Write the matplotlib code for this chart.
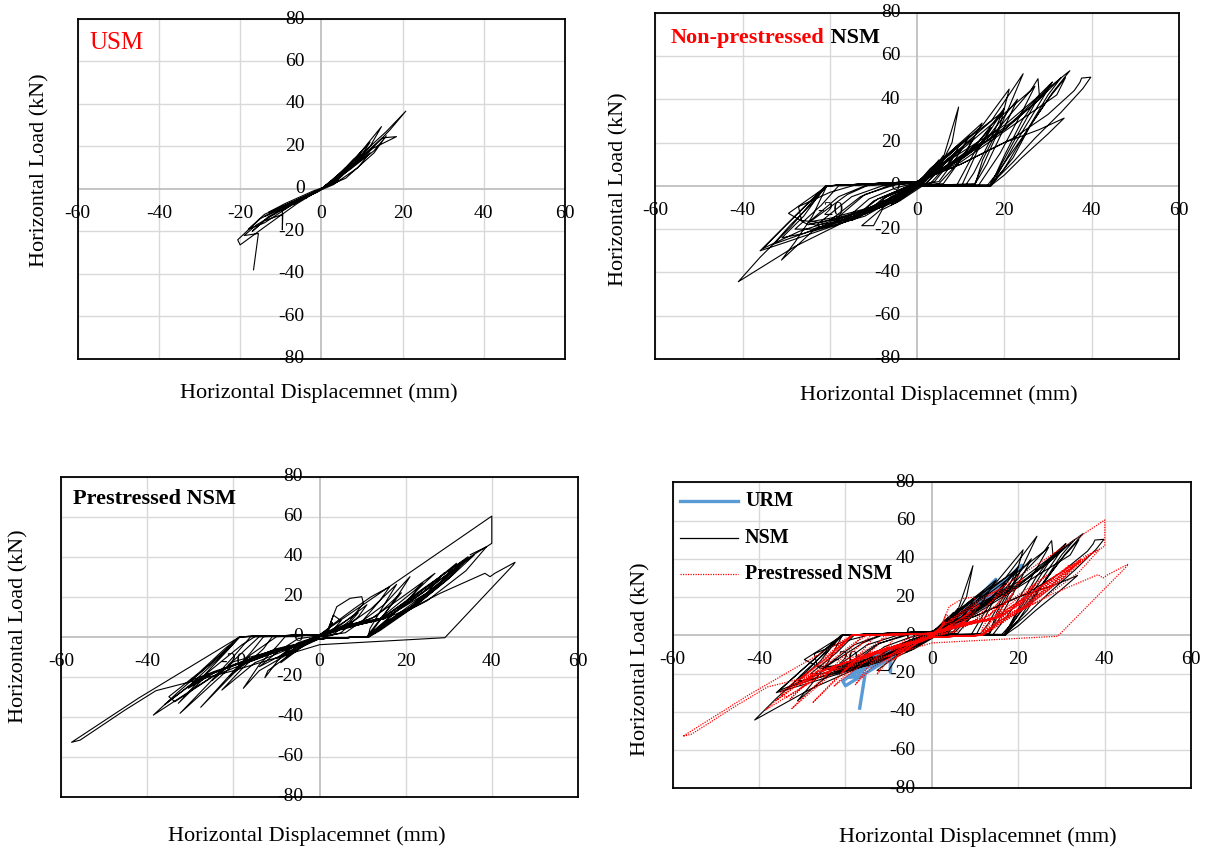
import numpy as np
import matplotlib
matplotlib.use("Agg")
import matplotlib.pyplot as plt
from matplotlib.lines import Line2D

plt.rcParams['font.family'] = ['Liberation Serif', 'DejaVu Serif']

W, H = 1208, 851

# ---- data: (displacement mm, load kN) ----
urm_pts = [
    (0, 0), (2, 3), (4, 6), (2, 2.5), (0, 0), (-2, -2), (-4, -4.5), (-2, -2), (0, 0),
    (3, 4.5), (6, 10), (4, 6), (1, 1), (-1, -1), (-4, -4), (-7, -7.5), (-4, -3.5), (0, 0),
    (4, 6), (8, 14), (6, 8), (2, 2), (-1, -1), (-5, -5), (-9, -9.5), (-6, -5.5), (-1, -1), (1, 1),
    (5, 8), (10, 18), (8, 11), (3, 3), (-1, -1), (-6, -6), (-11, -10), (-8, -7), (-2, -2), (1, 1),
    (5, 7), (10, 14), (12, 17), (9, 10), (3, 2), (-2, -2), (-8, -7), (-13, -11), (-9, -7), (-2, -1), (1, 1),
    (6, 9), (12, 22), (10, 16), (4, 4), (-1, -1.5), (-7, -7), (-14, -13), (-11, -10), (-3, -3), (1, 1),
    (7, 11), (14.8, 29.3), (12, 20), (5, 6), (-1, -1.5), (-8, -8), (-9.6, -10), (-9.6, -19.3),
    (-9.5, -12), (-14, -15), (-17, -20), (-13, -13), (-4, -4), (1, 1),
    (7, 9), (13, 18), (16, 25), (13, 17), (6, 5), (0, 0), (-7, -6), (-14, -12), (-18, -19),
    (-14, -16), (-6, -6), (0, 0),
    (8, 12), (15, 24), (18.5, 24.6), (12.7, 19.1), (6, 8), (0, 0), (-8, -7), (-15, -14),
    (-20.6, -24), (-20, -26.4), (-14, -18), (-6, -7), (0, 0),
    (8, 13), (16, 27), (20.8, 36.6), (17, 28), (13, 20), (6, 8), (0, 0), (-8, -8),
    (-16, -17), (-19, -22), (-15.5, -21), (-16.7, -38.1),
]

nsm_pts = [
    (0, 0), (1, 2.5), (2, 4), (1.2, 1.5), (0, 0.5), (-1, -1.5), (-2, -3), (-1, -1), (0, 0.5),
    (1.5, 3), (3, 6), (2, 3), (0.5, 1), (-1.5, -2), (-3, -4.5), (-2, -2), (0, 1),
    (2, 4), (4, 9), (3, 5), (1, 1), (-2, -3), (-4, -6), (-2.5, -2.5), (0, 1),
    (2, 5), (5, 12), (3.5, 6), (1, 1), (-2, -3.5), (-5, -8), (-3, -3), (0, 1),
    (3, 6), (6, 14), (4.5, 8), (1.5, 1), (-3, -5), (-6, -9), (-4, -4), (0, 1),
    (2, 3), (7, 12), (5, 7), (2, 1), (0, 0), (-4, -5), (-9, -10), (-6, -5), (0, 1),
    (3, 8), (6, 13), (9.5, 36.4), (8, 20), (5, 8), (2, 1), (-4, -7), (-8, -11), (-10, -18.4),
    (-12.7, -18.4), (-6, -7), (-4, -3), (0, 1),
    (3, 5), (9, 16), (7, 10), (3, 1), (0, 0), (-5, -6), (-11, -12), (-7, -5), (0, 1),
    (4, 9), (10, 20), (8, 12), (4, 2), (0, 0), (-5, -7), (-12, -13), (-8, -6), (0, 1.5),
    (4, 6), (11, 19), (13, 22), (10, 12), (5, 1), (0, 0), (-6, -7), (-15, -16), (-10, -7), (-2, 0), (0, 1),
    (5, 10), (12, 23), (9, 13), (5, 2), (0, 0), (-6, -8), (-14, -14), (-9, -6), (-3, -1), (0, 1.5),
    (5, 6), (12, 16), (17, 27), (13, 15), (9, 0), (0, 0), (-7, -8), (-17, -17), (-19, -16),
    (-12, -4), (-5, 0.5), (0, 1.5),
    (5, 11), (14.9, 29), (11, 15), (6, 1), (0, 0), (-7, -9), (-16.5, -15.5), (-11, -6), (-5, -1), (0, 1.5),
    (6, 8), (14, 20), (20, 36), (17, 22), (13, 6), (11, 0), (0, 0), (-9, -10), (-19, -17),
    (-23, -18), (-15, -5), (-8, 0), (0, 1.5),
    (6, 12), (13, 24), (19.3, 33.6), (14, 17), (10.2, 0), (0, 0), (-8, -9), (-18, -15), (-20, -16),
    (-13, -5), (-6, 0.5), (0, 1.5),
    (7, 9), (16, 22), (23, 40), (20, 27), (16, 10), (13, 0), (0, 0), (-10, -11), (-22, -19),
    (-25, -17), (-18, -5), (-12, 0), (0, 1.5),
    (7, 14), (15, 28), (21.1, 44.7), (19, 28), (15, 12), (13.2, 0), (0, 0), (-9, -9), (-20, -15),
    (-24.6, -16.6), (-16, -4), (-11, 0.5), (0, 1.5),
    (8, 14), (17, 30), (24.3, 51.8), (21, 36), (17, 18), (13.2, 1), (0, 0), (-10, -10), (-22, -17),
    (-26.5, -16), (-27.2, -9.6), (-20, -3), (-14, 0.5), (0, 1.5),
    (8, 10), (18, 25), (26, 44), (27, 46), (24, 34), (19, 15), (14, 0), (0, 0), (-11, -12),
    (-24, -20), (-28, -20), (-22, -9), (-18, 0), (0, 1.5),
    (8, 13), (18, 30), (26, 44), (27.7, 49.5), (28, 42), (24, 30), (20, 14), (16.8, 0), (0, 0),
    (-12, -12), (-25, -18), (-29.5, -12.7), (-22, -2), (-20.7, 0), (0, 1.5),
    (9, 11), (20, 26), (28, 40), (31, 48), (28, 38), (22, 18), (17, 0), (0, 0), (-12, -13),
    (-26, -22), (-31, -24), (-26, -14), (-21, 0), (0, 2),
    (9, 14), (20, 28), (27, 40), (30.9, 47.8), (27, 38), (22, 20), (18, 5), (16, 0), (0, 0),
    (-12, -14), (-24, -21), (-31.1, -34.3), (-28, -26), (-24, -14), (-20.7, 0), (0, 1.8),
    (9, 12), (20, 26), (28, 40), (33, 50), (30, 42), (25, 25), (20, 8), (16.8, 0), (0, 0),
    (-13, -12), (-27, -21), (-35.3, -28.9), (-30, -18), (-25, -8), (-20.7, 0), (0, 2),
    (10, 11), (22, 28), (32, 42), (34, 50), (30, 40), (24, 22), (17, 2), (16.8, 0), (0, 0),
    (-14, -15), (-30, -26), (-36, -30), (-31, -20), (-21, 0), (0, 2),
    (10, 12), (22, 30), (30, 45), (35, 53.2), (31, 43), (26, 28), (22, 13), (16.8, 0), (0, 0),
    (-12, -11), (-26, -22), (-33, -27), (-29, -18), (-24, -8), (-20.7, 0), (0, 2),
    (10, 10), (20, 20), (28, 26), (33.7, 31.3), (30, 24), (24, 13), (20, 5), (16.8, 0), (0, 0),
    (-14, -14), (-28, -28), (-41, -44.3), (-36, -33), (-29, -19), (-24, -7), (-20.7, 0), (0, 2),
    (10, 10), (22, 22), (30, 33), (36, 44), (37.3, 47.8), (37.7, 49.8), (39.8, 50.2), (38, 45),
    (33, 34), (27, 22), (22, 11), (16.8, 0.5), (0, 0.5),
]

pnsm_pts = [
    (0, 0), (2, 4), (3, 7), (2, 3), (0, 0), (-2, -2), (-4, -5), (-2, -2), (0, 0),
    (2, 3), (3.2, 10.8), (5, 8), (3, 3), (0, 0), (-3, -3), (-6, -8), (-4, -4), (0, 0),
    (4, 5), (9, 12), (7, 7), (3, 1), (0, 0), (-4, -4), (-10, -11), (-7, -6), (-2, -1), (0, 0),
    (2, 4), (4, 15), (7.1, 19.2), (9.8, 20), (10.2, 16.7), (7, 8), (4, 3), (0, 0), (-4, -5),
    (-9, -13), (-6, -6), (-2, -1), (0, 0),
    (5, 6), (11, 16), (9, 10), (5, 2), (0, -1), (-5, -5), (-14, -15), (-10, -8), (-5, -1), (0, 0.5),
    (3, 6), (8, 14), (12, 20), (16.3, 25), (14, 18), (10, 8), (6, 2), (0, 0), (-5, -6),
    (-12, -17), (-12.7, -20.5), (-9, -10), (-5, -3), (0, 0.5),
    (3, 2), (8, 8), (12, 14), (17.9, 26.2), (15, 16), (11.7, 4), (11.3, 0), (0, -1), (-6, -7),
    (-14, -17), (-17.7, -25.8), (-14, -14), (-10, -5), (-8, 0), (0, 1),
    (5, 4), (13, 10), (19, 22), (16, 14), (12, 3), (11, 0), (0, -1), (-7, -5), (-17, -13),
    (-21, -20), (-16, -9), (-10, 0), (0, 1),
    (4, 3), (10, 8), (15, 16), (21, 30), (18, 20), (14, 8), (11.3, 0), (0, -1), (-7, -6),
    (-15, -13), (-22.7, -26.7), (-18, -16), (-13, -6), (-11, 0), (0, 1),
    (6, 4), (14, 9), (22, 23), (24, 27), (20, 17), (14, 5), (11.3, 0), (0, -1), (-9, -6),
    (-20, -12.5), (-25, -22), (-20, -12), (-14, 0), (0, 1),
    (5, 4), (12, 9), (18, 18), (26.8, 31.7), (23, 24), (18, 13), (12, 2), (11.3, 0), (0, -1),
    (-8, -6), (-18, -14), (-27.6, -35.3), (-22, -22), (-16, -8), (-13, 0), (0, 1),
    (6, 5), (15, 9), (24, 22), (29, 32), (25, 22), (18, 11), (12, 1), (11.3, 0), (0, -1),
    (-10, -6), (-24, -17.5), (-30.5, -25.8), (-26, -18), (-18, -4), (-15, 0), (0, 1),
    (5, 4), (14, 8.4), (22, 20), (28, 30), (31.8, 36.7), (27, 24), (20.2, 12.5), (14, 4),
    (11.3, 0), (0, -1), (-9, -6), (-20, -14), (-32.4, -38.3), (-26, -24), (-20, -10), (-16, 0), (0, 1),
    (6, 5), (16, 10), (26, 25), (33, 37), (28, 27), (20, 13), (13, 2), (11.5, 0), (0, -1),
    (-11, -7), (-26, -19), (-32.8, -33.3), (-28, -22), (-21, -6), (-18.5, 0), (0, 1),
    (5, 4), (14, 8.4), (23, 22), (30, 33), (34.5, 40), (30, 29), (22, 15), (15, 6), (11.5, 0),
    (0, -1), (-10, -7), (-22, -16), (-33.6, -32.5), (-35, -30), (-28, -18), (-22, -6), (-18.5, 0), (0, 1),
    (7, 6), (16, 10), (27, 27), (36, 41), (31, 31), (22, 15), (14, 3), (11.5, 0), (0, -1),
    (-12, -8), (-28, -21), (-36, -34), (-30, -24), (-22, -8), (-18.5, 0), (0, 1),
    (6, 5), (14, 8.4), (24, 24), (32, 36), (38.8, 45), (34, 33), (25, 18), (16, 8), (11.5, 0),
    (0, -1), (-11, -8), (-25, -20), (-38.6, -39.2), (-33, -28), (-25, -13), (-18.5, 0), (0, 1),
    (6, 6), (15, 9), (25, 22), (34.2, 38.4), (30, 30), (22, 16), (15, 7), (11.5, 0), (0, -1),
    (-12, -9), (-24, -17), (-30, -22), (-25, -13), (-18.5, 0), (0, 1),
    (7, 5), (15, 9), (22, 15), (28, 21.7), (38.4, 31.7), (39.6, 30), (40.7, 31.7), (45.4, 37.2),
    (45, 35.9), (29.1, -0.5), (0, -4), (-20, -17), (-38, -27), (-45.2, -36.7), (-55.6, -51.7),
    (-57.6, -52.8), (-42.1, -30.8), (-18.5, 0), (0, 1), (40, 60.3), (40, 46.7), (38.8, 45), (35, 41),
]

x_ticks = [-60, -40, -20, 0, 20, 40, 60]
y_ticks = [-80, -60, -40, -20, 0, 20, 40, 60, 80]

urm = np.array(urm_pts)
nsm = np.array(nsm_pts)
pnsm = np.array(pnsm_pts)

BLUE = '#5b9bd5'
RED = '#ff0000'


def fx(x):
    return x / W


def fy(y):
    return 1 - y / H


def box(x0, x1, y0, y1):
    return [fx(x0), fy(y1), (x1 - x0) / W, (y1 - y0) / H]


def setup(ax):
    ax.set_xlim(-60, 60)
    ax.set_ylim(-80, 80)
    ax.set_xticks([])
    ax.set_yticks([])
    for v in x_ticks:
        if v != 0:
            ax.axvline(v, color='#d9d9d9', lw=1.0, zorder=0)
    for v in y_ticks:
        if v != 0:
            ax.axhline(v, color='#d9d9d9', lw=1.0, zorder=0)
    ax.axhline(0, color='#bfbfbf', lw=1.3, zorder=1)
    ax.axvline(0, color='#bfbfbf', lw=1.3, zorder=1)
    for s in ax.spines.values():
        s.set_linewidth(1.3)
        s.set_color('black')
        s.set_zorder(6)
    for v in x_ticks:
        ax.annotate(str(v), (v, 0), xytext=(0, -17.5), textcoords='offset points',
                    ha='center', va='center', fontsize=14, annotation_clip=False, zorder=3)
    for v in y_ticks:
        ax.annotate(str(v), (0, v), xytext=(-12, 0), textcoords='offset points',
                    ha='right', va='center', fontsize=14, annotation_clip=False, zorder=3)


fig = plt.figure(figsize=(W / 100, H / 100), dpi=100)

ax1 = fig.add_axes(box(77.7, 565, 19, 358.7))
ax2 = fig.add_axes(box(655.4, 1178.9, 12.7, 359))
ax3 = fig.add_axes(box(61.2, 577.9, 476.7, 796.7))
ax4 = fig.add_axes(box(672.5, 1191.3, 482.3, 788.3))
for ax in (ax1, ax2, ax3, ax4):
    setup(ax)

ax1.plot(urm[:, 0], urm[:, 1], color='black', lw=0.8, zorder=4)
ax2.plot(nsm[:, 0], nsm[:, 1], color='black', lw=0.8, zorder=4)
ax3.plot(pnsm[:, 0], pnsm[:, 1], color='black', lw=0.8, zorder=4)

ax4.plot(urm[:, 0], urm[:, 1], color=BLUE, lw=2.4, zorder=4)
ax4.plot(nsm[:, 0], nsm[:, 1], color='black', lw=0.8, zorder=4)
ax4.plot(pnsm[:, 0], pnsm[:, 1], color=RED, lw=0.9, ls=(0, (1, 1)), zorder=4)

# axis titles
xlab = 'Horizontal Displacemnet (mm)'
ylab = 'Horizontal Load (kN)'
for (xx, yy) in [(319, 393), (939, 395), (307, 836), (978, 837)]:
    fig.text(fx(xx), fy(yy), xlab, ha='center', va='center', fontsize=16)
for (xx, yy) in [(40, 170), (619, 189), (19, 626), (641, 659)]:
    fig.text(fx(xx), fy(yy), ylab, ha='center', va='center', fontsize=16, rotation=90)

# panel captions
fig.text(fx(89), fy(43), 'USM', color=RED, fontsize=18, ha='left', va='center')
t = fig.text(fx(671), fy(38), 'Non-prestressed', color=RED, fontsize=16,
             fontweight='bold', ha='left', va='center')
fig.canvas.draw()
ax2.annotate(' NSM', xy=(1, 0.5), xycoords=t, ha='left', va='center',
             fontsize=16, fontweight='bold', color='black')
fig.text(fx(73), fy(499), 'Prestressed NSM', fontsize=16, fontweight='bold',
         ha='left', va='center')

# legend of the combined panel
leg = [('URM', BLUE, 2.4, '-', 501), ('NSM', 'black', 0.9, '-', 538),
       ('Prestressed NSM', RED, 0.9, (0, (1, 1)), 574)]
for name, col, lw, ls, yy in leg:
    fig.add_artist(Line2D([fx(680), fx(738)], [fy(yy), fy(yy)], color=col, lw=lw, ls=ls))
    fig.text(fx(745), fy(yy), name, fontsize=14.5, fontweight='bold', ha='left', va='center')

fig.savefig('out.png', dpi=100)
